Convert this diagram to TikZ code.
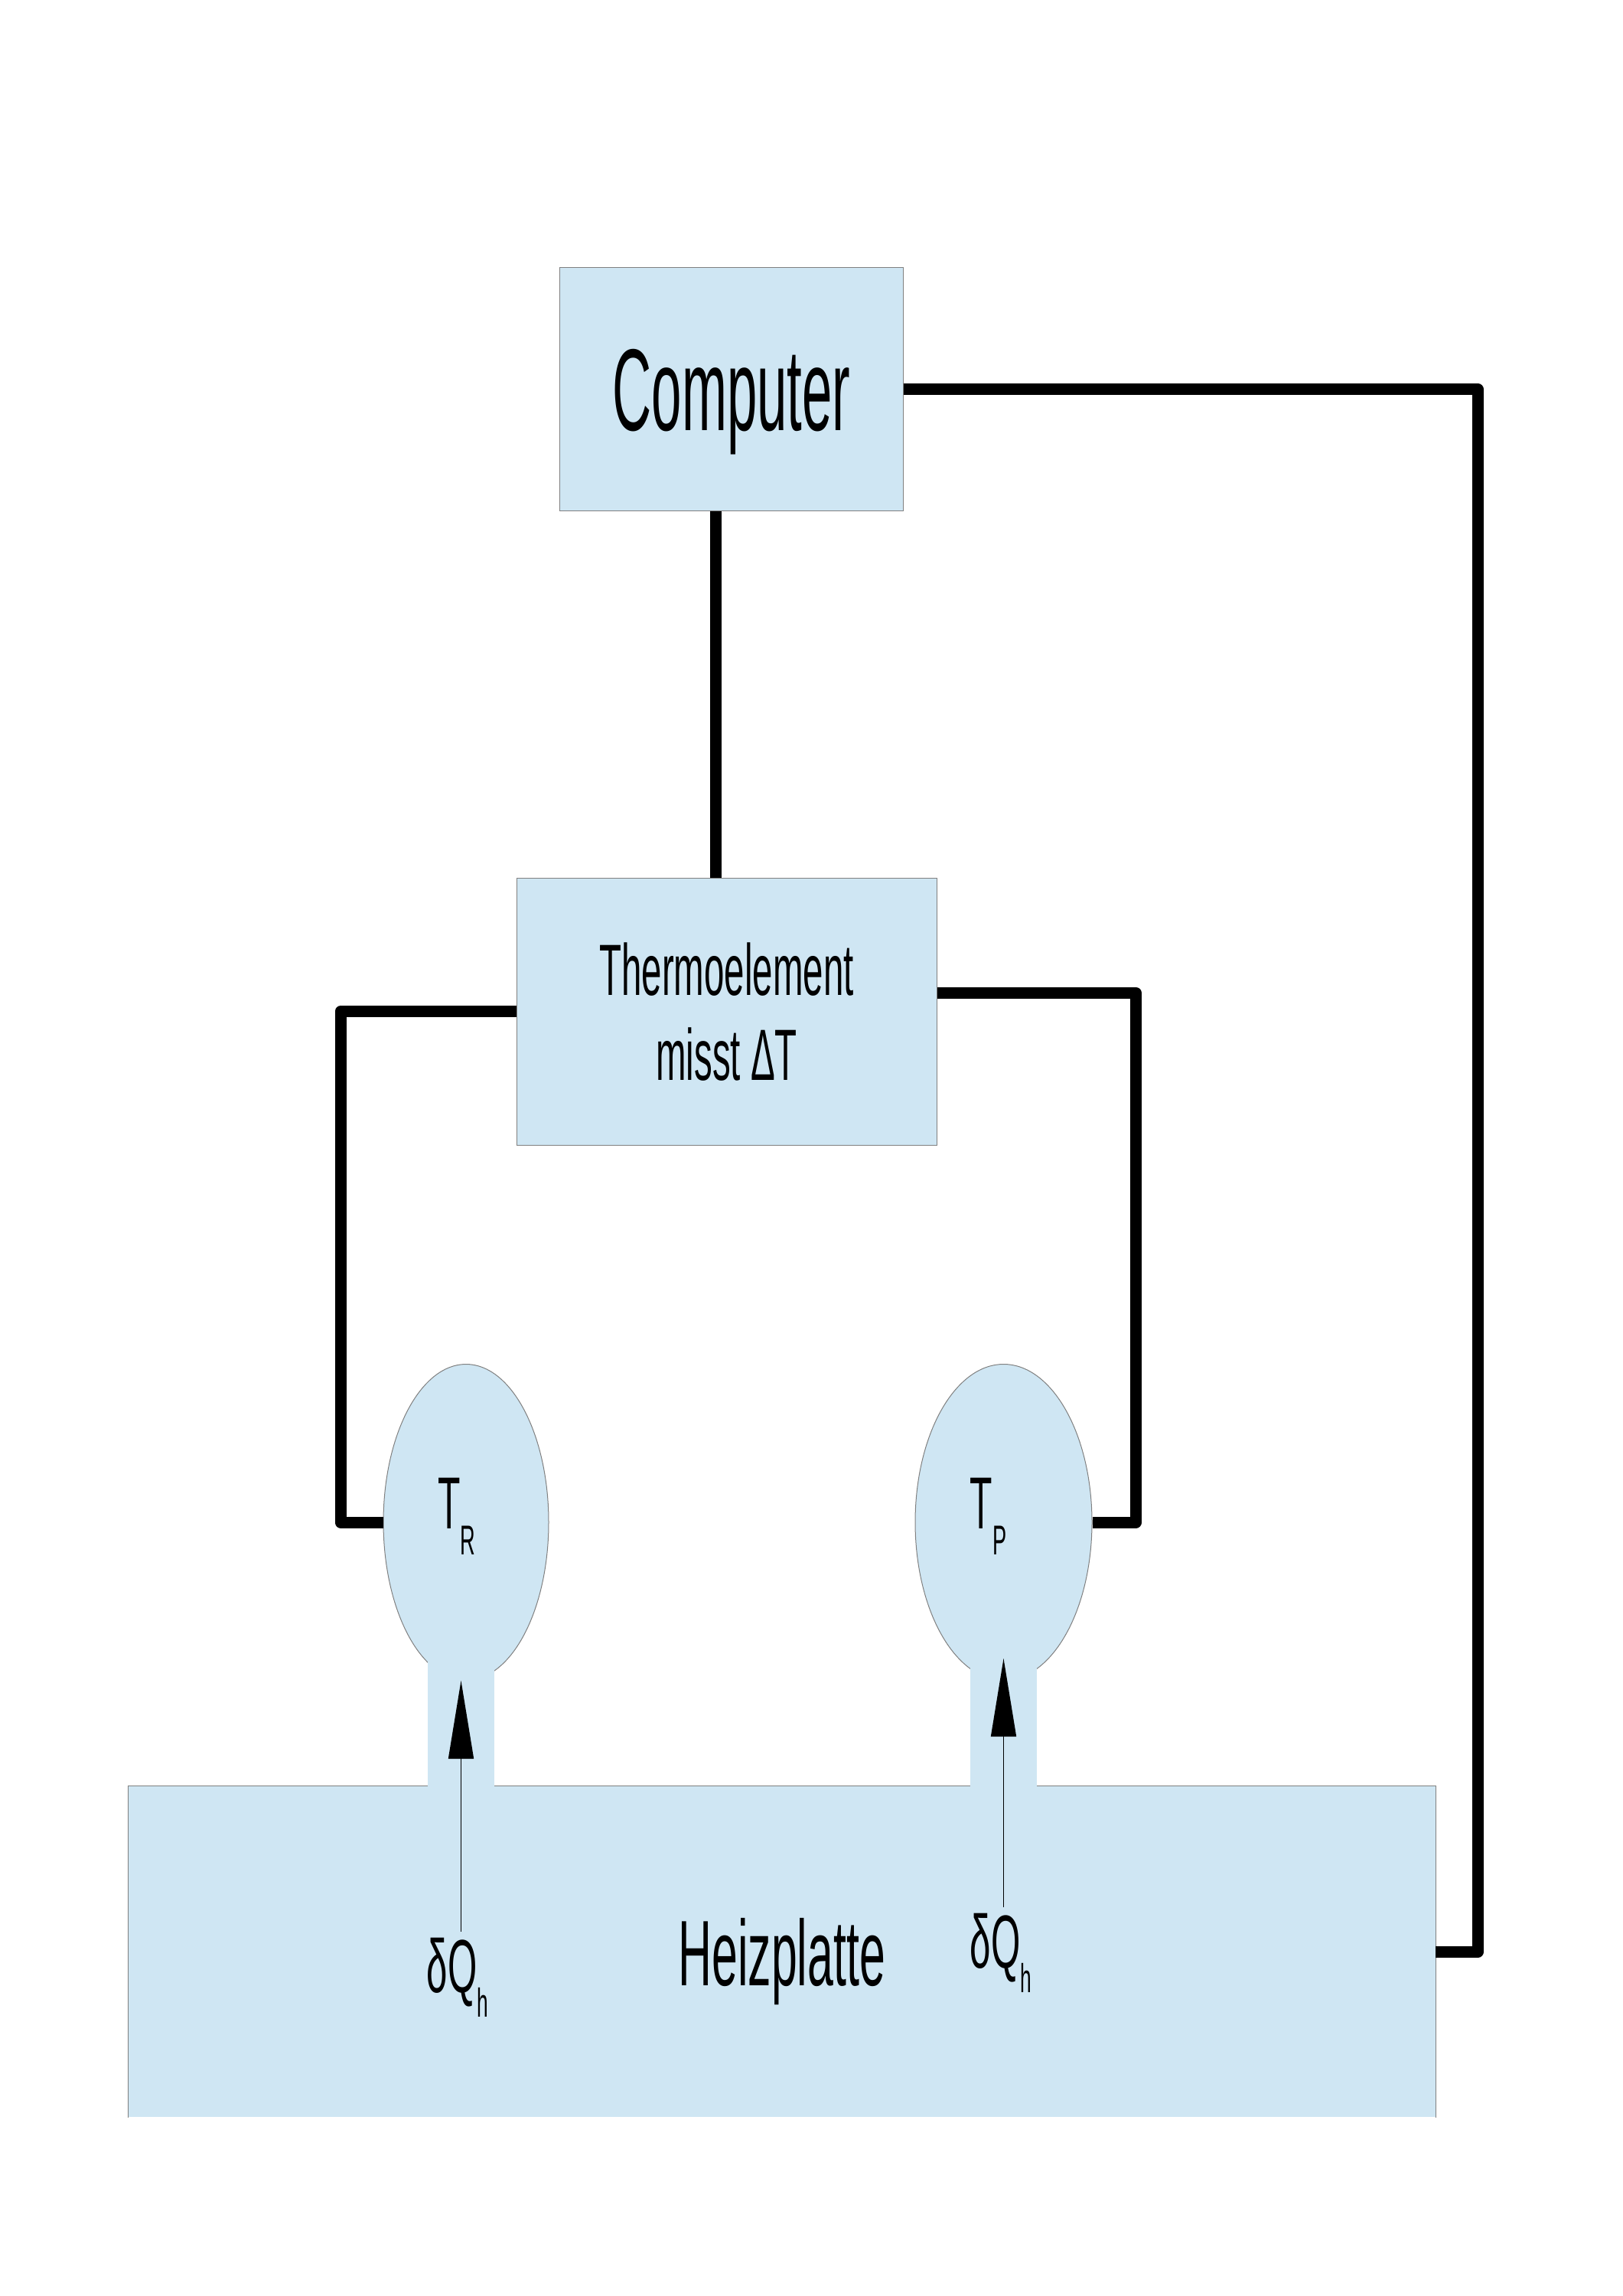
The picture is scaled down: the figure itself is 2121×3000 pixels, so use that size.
\documentclass[tikz,border=0pt]{standalone}
\usepackage{fontspec}
\setmainfont{Liberation Sans}[FakeStretch=0.5]
\newfontfamily\compfont{Liberation Sans}[FakeStretch=0.465]
\usepackage{xcolor}
\usetikzlibrary{arrows.meta,shapes.geometric}
\definecolor{plate}{RGB}{207,230,243}
\definecolor{rim}{RGB}{128,128,128}
\newcommand{\tsub}[1]{\lower9.7pt\hbox{\fontsize{15.5pt}{17pt}\selectfont #1}}
\newcommand{\hsub}[1]{\lower9.1pt\hbox{\fontsize{15pt}{17pt}\selectfont #1}}

\begin{document}
\begin{tikzpicture}[
  x=0.1mm, y=-0.1mm,
  box/.style={draw=rim, line width=0.1mm, fill=plate, inner sep=0pt, text depth=0pt, align=center},
  probe/.style={ellipse, draw=rim, line width=0.1mm, fill=plate, inner sep=0pt, text height=3mm, text depth=1.4mm, font=\fontsize{27.4pt}{30pt}\selectfont},
  wire/.style={line width=1.5mm, line join=round},
  heat/.style={-{Triangle[length=10.2mm, width=3.3mm]}, line width=0.15mm},
  flux/.style={inner sep=2pt, font=\fontsize{28pt}{30pt}\selectfont}
]
\useasboundingbox (0,0) rectangle (2121,3000);
\node[box, draw=none, minimum width=170.75mm, minimum height=43.2mm, font=\fontsize{34.6pt}{40pt}\selectfont] (heiz) at (1021.75,2550) {Heizplatte};
\draw[rim, line width=0.1mm] (heiz.south west) -- (heiz.north west) -- (heiz.north east) -- (heiz.south east);
\node[box, minimum width=44.85mm, minimum height=31.8mm, font=\compfont\fontsize{43.3pt}{50pt}\selectfont] (comp) at (956,509) {Computer};
\node[box, minimum width=54.9mm, minimum height=34.9mm, font=\fontsize{27pt}{31.6pt}\selectfont] (thermo) at (949.5,1321.5) {Thermoelement\\misst ΔT};
\node[probe, minimum width=21.6mm, minimum height=41.3mm] (tr) at (609,1989) {T\tsub{R}\kern2.4mm};
\node[probe, minimum width=23.1mm, minimum height=41.3mm] (tp) at (1311.5,1989) {T\tsub{P}\kern4mm};
\fill[plate] (559,2150) rectangle (646,2335);
\fill[plate] (1268,2150) rectangle (1355,2335);
\node[flux, anchor=base west] (dqr) at (550,2603) {δQ\hsub{h}};
\node[flux, anchor=base west] (dqp) at (1260,2571) {δQ\hsub{h}};
\draw[wire] (comp.east) -| ([xshift=5.55mm]heiz.east) -- (heiz.east);
\draw[wire] ([xshift=-2.1mm]comp.south) -- ([xshift=-2.1mm]comp.south |- thermo.north);
\draw[wire] (thermo.west) -| ([xshift=-5.55mm]tr.west) -- (tr.west);
\draw[wire] ([yshift=2.4mm]thermo.east) -| ([xshift=5.7mm]tp.east) -- (tp.east);
\draw[heat] ([xshift=-0.65mm]tr.south |- dqr.north) -- ([xshift=-0.65mm]tr.south);
\draw[heat] (tp.south |- dqp.north) -- ([yshift=2.9mm]tp.south);
\end{tikzpicture}
\end{document}
